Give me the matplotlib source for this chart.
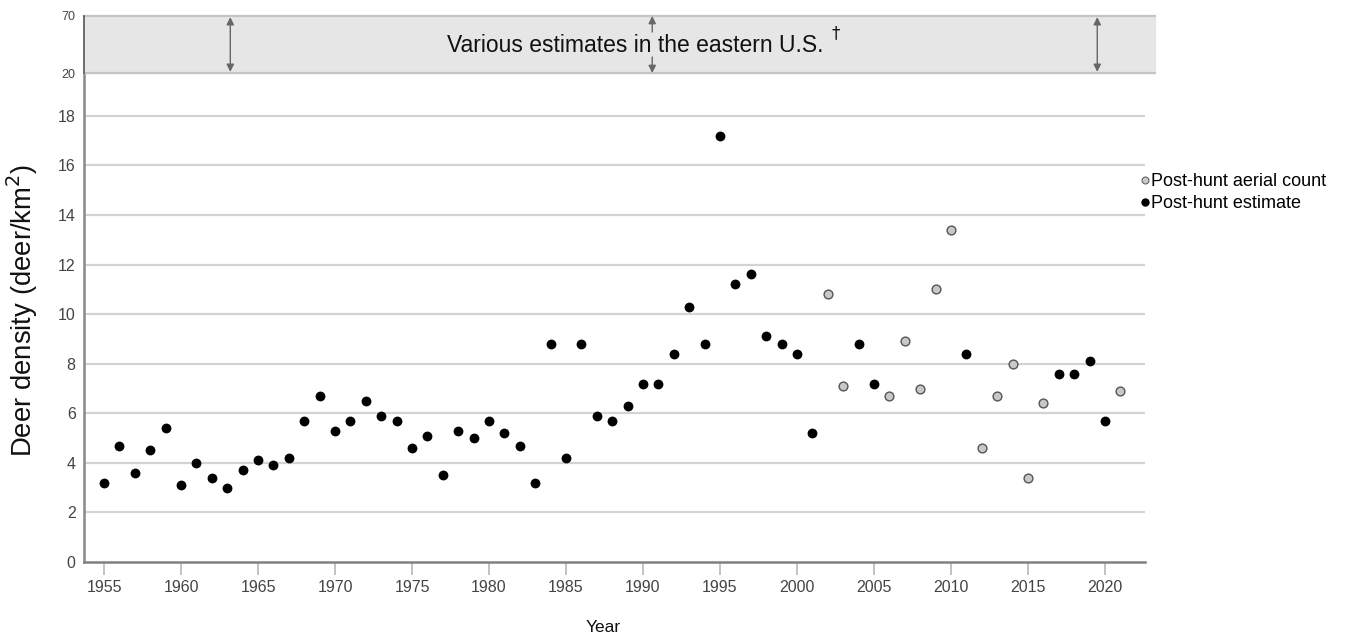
import matplotlib
matplotlib.use('Agg')
import matplotlib.pyplot as plt
from matplotlib.lines import Line2D

plt.rcParams['font.family'] = ['Liberation Sans', 'DejaVu Sans']

# 数据
years = list(range(1955, 2022))
density = [3.2, 4.7, 3.6, 4.5, 5.4, 3.1, 4.0, 3.4, 3.0, 3.7,
           4.1, 3.9, 4.2, 5.7, 6.7, 5.3, 5.7, 6.5, 5.9, 5.7,
           4.6, 5.1, 3.5, 5.3, 5.0, 5.7, 5.2, 4.7, 3.2, 8.8,
           4.2, 8.8, 5.9, 5.7, 6.3, 7.2, 7.2, 8.4, 10.3, 8.8,
           17.2, 11.2, 11.6, 9.1, 8.8, 8.4, 5.2, 10.8, 7.1, 8.8,
           7.2, 6.7, 8.9, 7.0, 11.0, 13.4, 8.4, 4.6, 6.7, 8.0,
           3.4, 6.4, 7.6, 7.6, 8.1, 5.7, 6.9]
# 'a' = aerial count, 'e' = estimate
method = ['e'] * 47 + ['a', 'a', 'e', 'e', 'a', 'a', 'a', 'a', 'a', 'e',
                       'a', 'a', 'a', 'a', 'a', 'e', 'e', 'e', 'e', 'a']

band_low, band_high = 20, 70
arrow_years = [1963.2, 2019.5]
mid_arrow_year = 1990.6

est_x = [y for y, m in zip(years, method) if m == 'e']
est_y = [d for d, m in zip(density, method) if m == 'e']
aer_x = [y for y, m in zip(years, method) if m == 'a']
aer_y = [d for d, m in zip(density, method) if m == 'a']

fig = plt.figure(figsize=(13.53, 6.41), dpi=100)
W, H = 1353, 641
left, right = 84 / W, 1145 / W
ax = fig.add_axes([left, 1 - 562 / H, right - left, (562 - 73) / H])
axb = fig.add_axes([left, 1 - 73 / H, right - left, (73 - 16) / H], sharex=ax)

ax.set_xlim(1953.7, 2022.6)
ax.set_ylim(0, 19.73)

ax.scatter(est_x, est_y, s=50, color='black', zorder=3, linewidths=0)
ax.scatter(aer_x, aer_y, s=40, color='#c8c8c8', edgecolors='#555555', linewidths=1, zorder=3)

ax.set_yticks(range(0, 20, 2))
ax.set_xticks(range(1955, 2021, 5))
for v in range(2, 20, 2):
    ax.axhline(v, color='#d3d3d3', lw=1.6, zorder=1)
for s in ['top', 'right']:
    ax.spines[s].set_visible(False)
ax.spines['left'].set_color('#888888')
ax.spines['left'].set_linewidth(1.8)
ax.spines['bottom'].set_color('#808080')
ax.spines['bottom'].set_linewidth(1.8)
ax.tick_params(axis='x', colors='#b8b8b8', length=9, width=1.2, labelcolor='#444444', labelsize=11.5, pad=4)
ax.tick_params(axis='y', length=0, labelcolor='#444444', labelsize=11.5, pad=6)

# 顶部区间
axb.set_ylim(band_low, band_high)
axb.axhspan(band_low, band_high, xmin=0, xmax=1.009, color='#e6e6e6', clip_on=False, zorder=0)
for v in [band_low, band_high]:
    axb.axhline(v, xmin=0, xmax=1.009, color='#c4c4c4', lw=1.6, clip_on=False, zorder=1)
for s in ['top', 'right', 'bottom']:
    axb.spines[s].set_visible(False)
axb.spines['left'].set_color('#555555')
axb.spines['left'].set_linewidth(1.2)
axb.set_yticks([band_low, band_high])
axb.tick_params(axis='y', length=0, labelcolor='#444444', labelsize=9, pad=6)
axb.tick_params(axis='x', bottom=False, labelbottom=False)
axb.patch.set_alpha(0)

arrow_kw = dict(color='#666666', lw=1, shrinkA=0, shrinkB=0, mutation_scale=11)
for xa in arrow_years:
    axb.annotate('', xy=(xa, band_high - 1), xytext=(xa, band_low + 1),
                 arrowprops=dict(arrowstyle='<|-|>', **arrow_kw))
axb.annotate('', xy=(mid_arrow_year, band_high), xytext=(mid_arrow_year, 56),
             arrowprops=dict(arrowstyle='-|>', **arrow_kw))
axb.annotate('', xy=(mid_arrow_year, band_low), xytext=(mid_arrow_year, 34),
             arrowprops=dict(arrowstyle='-|>', **arrow_kw))
axb.text(1989.5, 44, 'Various estimates in the eastern U.S.', ha='center', va='center',
         fontsize=16.5, color='#111111')
axb.text(2002.5, 55, '†', ha='center', va='center', fontsize=12, color='#111111',
         family=['DejaVu Sans'])

fig.text(22 / W, 1 - 310 / H, 'Deer density (deer/km$^2$)', rotation=90, ha='center', va='center',
         fontsize=19.8, color='#111111')
fig.text(603 / W, 1 - 628 / H, 'Year', ha='center', va='center', fontsize=12.5, color='#111111')

handles = [Line2D([], [], marker='o', ls='none', markersize=5, markerfacecolor='#c8c8c8',
                  markeredgecolor='#666666', markeredgewidth=0.8),
           Line2D([], [], marker='o', ls='none', markersize=5, color='black')]
fig.legend(handles, ['Post-hunt aerial count', 'Post-hunt estimate'],
           loc='upper left', bbox_to_anchor=(1140 / W, 1 - 173 / H), frameon=False,
           handlelength=0.55, handletextpad=0.05, labelspacing=0.28, fontsize=13,
           borderpad=0, borderaxespad=0)

plt.savefig('out.png', dpi=100)
